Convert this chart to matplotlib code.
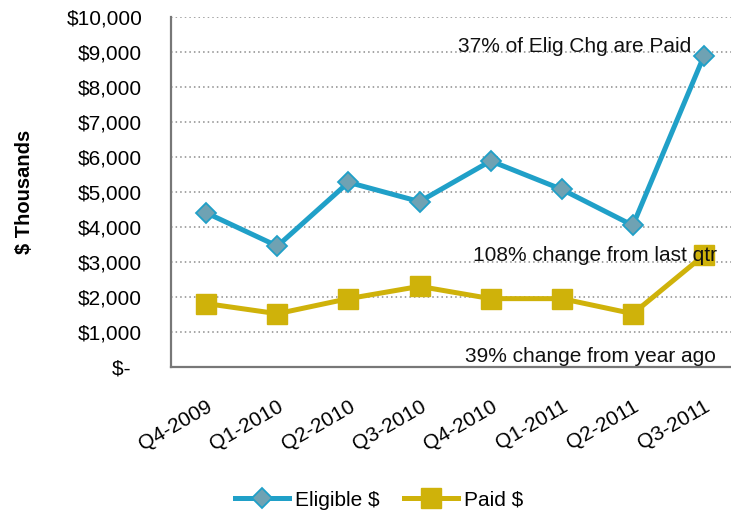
import matplotlib
matplotlib.use("Agg")
import matplotlib.pyplot as plt
from matplotlib.transforms import ScaledTranslation
import numpy as np

categories = ["Q4-2009", "Q1-2010", "Q2-2010", "Q3-2010", "Q4-2010", "Q1-2011", "Q2-2011", "Q3-2011"]
eligible = [4410, 3460, 5280, 4730, 5890, 5080, 4050, 8890]
paid = [1820, 1530, 1960, 2310, 1960, 1960, 1530, 3200]
yticks = [0, 1000, 2000, 3000, 4000, 5000, 6000, 7000, 8000, 9000, 10000]
ytick_labels = ["$-  ", "$1,000", "$2,000", "$3,000", "$4,000", "$5,000",
                "$6,000", "$7,000", "$8,000", "$9,000", "$10,000"]
notes = ["37% of Elig Chg are Paid", "108% change from last qtr", "39% change from year ago"]

plt.rcParams['font.family'] = ['Liberation Sans', 'DejaVu Sans']

W, H = 731, 513
fig = plt.figure(figsize=(W / 100, H / 100), dpi=100)
left_px, right_px, top_px, bot_px = 170.7, 739.5, 17.0, 367.3
ax = fig.add_axes([left_px / W, (H - bot_px) / H, (right_px - left_px) / W, (bot_px - top_px) / H])

x = np.arange(len(categories))
blue = "#20A0C8"
gold = "#CFB20A"
ax.plot(x, eligible, color=blue, lw=3.6, marker='D', ms=10,
        markerfacecolor="#6FA2B3", markeredgecolor=blue, markeredgewidth=1.3,
        label="Eligible $", zorder=3, clip_on=False)
ax.plot(x, paid, color=gold, lw=3.6, marker='s', ms=14,
        markerfacecolor=gold, markeredgecolor=gold, label="Paid $", zorder=3,
        clip_on=False)

ax.set_ylim(0, 10000)
ax.set_xlim(-0.5, len(categories) - 0.5)
ax.set_yticks(yticks)
ax.set_yticklabels(ytick_labels, fontsize=15)
ax.yaxis.grid(True, linestyle=(0, (1, 2)), color="#8C8C8C", lw=1.1)
ax.set_axisbelow(True)

ax.set_xticks(x)
ax.set_xticklabels(categories, fontsize=15, rotation=30, ha='right', va='top',
                   rotation_mode='anchor')
offset = ScaledTranslation(1 / 100, 0, fig.dpi_scale_trans)
for lab in ax.get_xticklabels():
    lab.set_transform(lab.get_transform() + offset)
ax.tick_params(axis='both', length=0)
ax.tick_params(axis='y', pad=20.5)
ax.tick_params(axis='x', pad=21)

for s in ['top', 'right']:
    ax.spines[s].set_visible(False)
for s in ['left', 'bottom']:
    ax.spines[s].set_color("#777777")
    ax.spines[s].set_linewidth(1.6)

ax.set_ylabel("$ Thousands", fontsize=14.5, fontweight='bold')
ax.yaxis.set_label_coords((34 - left_px) / (right_px - left_px), 0.5)

ax.text(6.82, 9150, notes[0], fontsize=15, ha='right', va='center', color='#111111')
ax.text(7.19, 3200, notes[1], fontsize=15, ha='right', va='center', color='#111111')
ax.text(7.17, 320, notes[2], fontsize=15, ha='right', va='center', color='#111111')

leg = fig.legend(loc='center', bbox_to_anchor=(379 / W, 1 - 500 / H), ncol=2,
                 frameon=False, fontsize=15, handlelength=2.6, columnspacing=1.15,
                 handletextpad=0.3)
fig.savefig("out.png", dpi=100)
